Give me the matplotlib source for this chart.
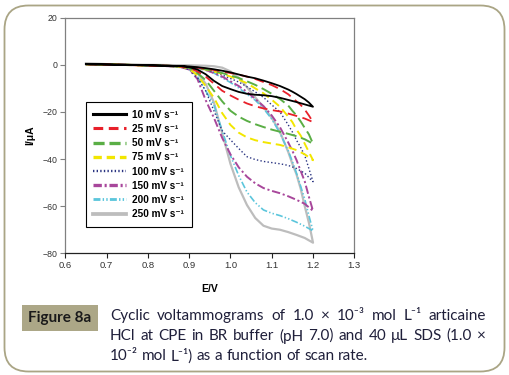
import matplotlib
matplotlib.use("Agg")
import matplotlib.pyplot as plt
from matplotlib.patches import FancyBboxPatch, Rectangle
from matplotlib.lines import Line2D

plt.rcParams['lines.scale_dashes'] = False

# ---------------- data ----------------
E_fwd = [0.65, 0.70, 0.75, 0.80, 0.85, 0.88, 0.90, 0.92, 0.94, 0.96, 0.98, 1.00,
         1.02, 1.04, 1.06, 1.08, 1.10, 1.12, 1.14, 1.16, 1.18, 1.20]
E_rev = [1.19, 1.18, 1.17, 1.16, 1.15, 1.14, 1.12, 1.10, 1.08, 1.06, 1.04, 1.02,
         1.00, 0.98, 0.96, 0.94, 0.92, 0.90, 0.85, 0.80, 0.75, 0.70, 0.65]

I_10_fwd = [0.3, 0.2, 0.0, -0.2, -0.4, -0.5, -1.0, -2.0, -4.0, -6.8, -9.0, -10.3,
            -11.5, -12.3, -12.7, -12.9, -13.3, -14.0, -14.9, -15.8, -16.8, -17.8]
I_10_rev = [-16.0, -14.6, -13.5, -12.4, -11.4, -10.5, -9.0, -7.8, -6.7, -5.7, -5.0, -4.1,
            -3.2, -2.5, -1.9, -1.4, -1.0, -0.7, -0.4, -0.2, 0.0, 0.1, 0.2]
I_25_fwd = [0.3, 0.2, 0.0, -0.2, -0.4, -0.6, -1.2, -2.8, -5.0, -8.0, -11.0, -13.0,
            -14.8, -16.4, -17.6, -18.5, -19.2, -19.8, -20.7, -21.7, -22.8, -24.3]
I_25_rev = [-21.5, -19.0, -17.0, -15.5, -14.0, -12.5, -10.3, -8.6, -7.3, -6.0, -5.0, -4.2,
            -3.5, -2.8, -2.2, -1.7, -1.2, -0.9, -0.5, -0.3, -0.1, 0.1, 0.2]
I_50_fwd = [0.3, 0.2, 0.0, -0.2, -0.4, -0.7, -1.3, -3.5, -6.5, -11.0, -15.5, -19.5,
            -22.0, -23.8, -25.2, -26.4, -27.5, -28.4, -29.3, -30.3, -31.6, -33.5]
I_50_rev = [-29.5, -26.8, -24.0, -21.5, -19.5, -17.3, -14.5, -12.3, -10.3, -8.5, -7.0, -5.6,
            -4.5, -3.5, -2.6, -1.9, -1.3, -0.9, -0.5, -0.3, -0.1, 0.1, 0.2]
I_75_fwd = [0.3, 0.2, 0.0, -0.2, -0.5, -0.8, -1.6, -4.5, -9.0, -14.0, -20.5, -25.5,
            -28.8, -30.8, -32.0, -32.8, -33.4, -34.0, -35.0, -36.2, -38.0, -40.5]
I_75_rev = [-37.0, -33.5, -30.0, -27.5, -24.3, -22.0, -17.8, -14.8, -12.1, -10.0, -7.8, -6.3,
            -5.0, -3.8, -2.8, -2.0, -1.3, -0.9, -0.5, -0.3, -0.1, 0.1, 0.2]
I_100_fwd = [0.3, 0.2, 0.0, -0.3, -0.5, -1.0, -2.0, -5.5, -11.0, -19.5, -28.0, -31.8,
             -35.5, -39.0, -40.2, -41.0, -41.5, -42.0, -42.7, -44.0, -46.0, -49.6]
I_100_rev = [-44.0, -38.5, -35.0, -32.0, -28.5, -25.5, -20.0, -17.0, -13.8, -11.5, -9.3, -7.3,
             -5.8, -4.3, -3.0, -2.0, -1.3, -0.9, -0.5, -0.3, -0.1, 0.1, 0.2]
I_150_fwd = [0.3, 0.2, 0.0, -0.3, -0.6, -1.0, -2.0, -6.0, -15.0, -22.5, -31.0, -38.0,
             -43.5, -47.5, -50.3, -52.3, -53.5, -54.5, -55.8, -57.3, -59.0, -62.0]
I_150_rev = [-56.0, -49.5, -45.0, -40.4, -36.5, -33.0, -26.5, -21.5, -17.5, -14.5, -11.5, -9.0,
             -7.0, -5.0, -3.5, -2.2, -1.4, -1.0, -0.5, -0.3, -0.1, 0.1, 0.2]
I_200_fwd = [0.3, 0.2, 0.0, -0.3, -0.6, -1.0, -1.8, -5.0, -11.0, -17.0, -28.0, -38.5,
             -47.0, -54.0, -58.5, -61.6, -63.0, -64.0, -65.3, -66.8, -68.5, -70.5]
I_200_rev = [-64.0, -57.0, -51.5, -46.0, -41.0, -36.5, -29.0, -23.0, -18.5, -15.0, -12.5, -9.8,
             -7.5, -5.5, -3.5, -2.2, -1.4, -0.9, -0.5, -0.3, -0.1, 0.1, 0.2]
I_250_fwd = [0.5, 0.3, 0.1, -0.2, -0.5, -1.0, -1.5, -3.5, -8.0, -16.0, -29.0, -42.0,
             -52.0, -59.5, -65.0, -68.3, -69.5, -70.0, -71.0, -72.2, -73.5, -75.5]
I_250_rev = [-67.0, -60.0, -52.5, -46.5, -42.0, -37.0, -28.5, -22.5, -18.0, -13.8, -9.5, -5.5,
             -2.8, -1.2, -0.6, -0.4, -0.3, -0.2, -0.1, 0.0, 0.1, 0.3, 0.5]

labels = ["10 mV s\u207b\u00b9", "25 mV s\u207b\u00b9", "50 mV s\u207b\u00b9", "75 mV s\u207b\u00b9",
          "100 mV s\u207b\u00b9", "150 mV s\u207b\u00b9", "200 mV s\u207b\u00b9", "250 mV s\u207b\u00b9"]
fwd_series = [I_10_fwd, I_25_fwd, I_50_fwd, I_75_fwd, I_100_fwd, I_150_fwd, I_200_fwd, I_250_fwd]
rev_series = [I_10_rev, I_25_rev, I_50_rev, I_75_rev, I_100_rev, I_150_rev, I_200_rev, I_250_rev]

x_ticks = [0.6, 0.7, 0.8, 0.9, 1.0, 1.1, 1.2, 1.3]
x_ticklabels = ["0.6", "0.7", "0.8", "0.9", "1.0", "1.1", "1.2", "1.3"]
y_ticks = [-80, -60, -40, -20, 0, 20]

# ---------------- styles ----------------
colors = ["#000000", "#e8202a", "#5aae45", "#f2e600", "#2b3582", "#a8479b", "#5cc6dc", "#bdbdbd"]
styles = ["-", (0, (7, 4)), (0, (8, 3.5)), (0, (6, 3.5)), (0, (1, 1.6)),
          (0, (6, 2, 1.5, 2)), (0, (5, 1.6, 1, 1.6, 1, 1.6)), "-"]
widths = [1.3, 1.3, 1.4, 1.4, 1.0, 1.4, 1.2, 1.6]

fig = plt.figure(figsize=(5.1, 3.75), dpi=100)
fig.patch.set_facecolor("white")

# outer rounded frame
frame = FancyBboxPatch((4.5, 3.5), 500, 366, boxstyle="round,pad=0,rounding_size=24",
                       transform=None, facecolor="none", edgecolor="#aaa585", lw=1.3)
fig.patches.append(frame)

ax = fig.add_axes([65.3 / 510, 1 - 253.3 / 375, 289 / 510, 235.6 / 375])
for i in range(len(labels)):
    E = E_fwd + E_rev
    I = fwd_series[i] + rev_series[i]
    ax.plot(E, I, color=colors[i], linestyle=styles[i], lw=widths[i], zorder=10 - i,
            solid_joinstyle="round")

ax.set_xlim(0.6, 1.3)
ax.set_ylim(-80, 20)
ax.set_xticks(x_ticks)
ax.set_xticklabels(x_ticklabels)
ax.set_yticks(y_ticks)
for s in ["left", "top", "right"]:
    ax.spines[s].set_color("#808080")
    ax.spines[s].set_linewidth(0.9)
ax.spines["bottom"].set_color("#222222")
ax.spines["bottom"].set_linewidth(0.9)
ax.tick_params(axis="y", direction="out", length=3.5, width=0.8, color="#808080",
               labelsize=6.3, labelcolor="#333333", pad=2)
ax.tick_params(axis="x", direction="out", length=3.5, width=0.8, color="#222222",
               labelsize=6.8, labelcolor="#333333", pad=2)
lab_font = ["Liberation Sans Narrow", "Liberation Sans", "DejaVu Sans"]
for t in ax.get_xticklabels() + ax.get_yticklabels():
    t.set_family(lab_font)
ax.set_xlabel("E/V", fontsize=7.5, fontweight="bold", family=lab_font, labelpad=10)
ax.set_ylabel("I/\u03bcA", fontsize=7.5, fontweight="bold", family=lab_font, labelpad=5)

handles = [Line2D([], [], color=colors[i], linestyle=styles[i], lw=widths[i] * 1.7)
           for i in range(len(labels))]
leg = ax.legend(handles, labels, loc="upper left", bbox_to_anchor=(0.0716, 0.641),
                borderaxespad=0, fancybox=False, framealpha=1, edgecolor="#000000",
                handlelength=3.3, handletextpad=0.6, labelspacing=0.42, borderpad=0.75,
                prop={"family": lab_font, "weight": "bold", "size": 7.2})
leg.get_frame().set_linewidth(0.8)
leg.set_zorder(20)

# caption label box
fig.patches.append(Rectangle((22, 375 - 331), 76, 26, transform=None,
                             facecolor="#aca787", edgecolor="none"))
cap_font = ["Lato", "DejaVu Sans"]
fig.text(60 / 510, 1 - 318 / 375, "Figure 8a", ha="center", va="center", fontsize=11,
         fontweight="bold", family=cap_font, color="#1a1a1a")

cap_lines = ["Cyclic voltammograms of 1.0 \u00d7 10\u207b\u00b3 mol L\u207b\u00b9 articaine",
             "HCl at CPE in BR buffer (pH 7.0) and 40 \u03bcL SDS (1.0 \u00d7",
             "10\u207b\u00b2 mol L\u207b\u00b9) as a function of scan rate."]
cap_y = [316, 336, 356]
cap_x0, cap_x1 = 110, 486
renderer = fig.canvas.get_renderer()
for li, line in enumerate(cap_lines):
    words = line.split(" ")
    texts = [fig.text(0, 0, w, fontsize=11, family=cap_font, color="#1f1f3a",
                      va="center", ha="left", transform=None) for w in words]
    wid = [t.get_window_extent(renderer).width for t in texts]
    if li < len(cap_lines) - 1:
        gap = (cap_x1 - cap_x0 - sum(wid)) / (len(words) - 1)
    else:
        sp = fig.text(0, 0, "a b", fontsize=11, family=cap_font)
        w_ab = sp.get_window_extent(renderer).width
        sp2 = fig.text(0, 0, "ab", fontsize=11, family=cap_font)
        gap = w_ab - sp2.get_window_extent(renderer).width
        sp.remove(); sp2.remove()
    x = cap_x0
    for t, w in zip(texts, wid):
        t.set_position((x, 375 - cap_y[li]))
        x += w + gap

fig.savefig("out.png", dpi=100)
